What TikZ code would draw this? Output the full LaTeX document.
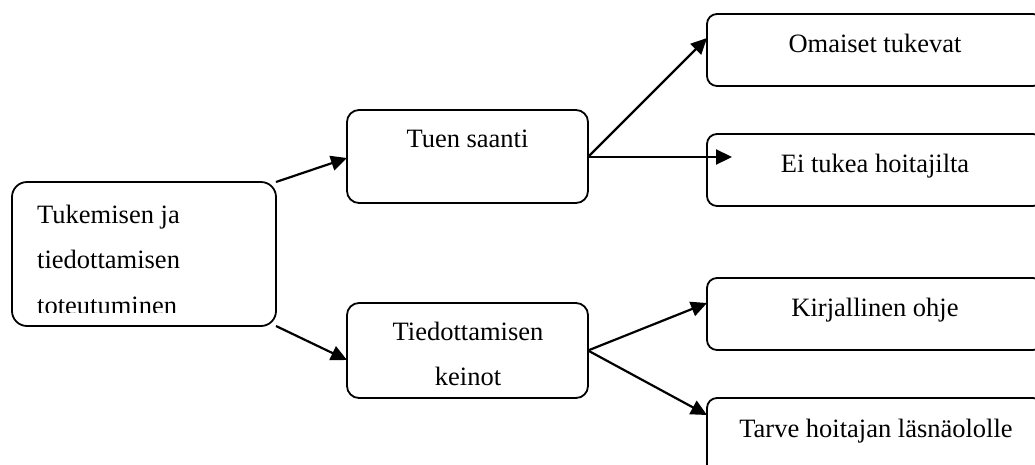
\documentclass[tikz,border=0pt]{standalone}
\usepackage{fontspec}
\setmainfont{Liberation Serif}
\usetikzlibrary{arrows.meta,calc}
\begin{document}
\begin{tikzpicture}[x=1pt,y=-1pt,
  box/.style={draw=black,line width=1.8pt,rounded corners=#1,rectangle,inner sep=0pt,outer sep=0pt},
  box/.default=12pt,
  lbl/.style={anchor=base,inner sep=0pt,font=\fontsize{26.5}{30}\selectfont},
  conn/.style={line width=2.2pt,-{Triangle[length=16pt,width=15pt]}}]
\useasboundingbox (0,0) rectangle (1035,464);
\clip (0,0) rectangle (1035,464);

% boxes
\node[box=15pt,minimum width=264pt,minimum height=144pt] (root) at (144,254) {};
\node[box,minimum width=241pt,minimum height=93pt] (tuen) at (467.5,156.5) {};
\node[box,minimum width=241pt,minimum height=95pt] (tied) at (467.5,350.5) {};
\node[box=10pt,minimum width=336pt,minimum height=72pt] (omai) at (875,50) {};
\node[box=10pt,minimum width=336pt,minimum height=72pt] (eituki) at (875,170) {};
\node[box=10pt,minimum width=336pt,minimum height=72pt] (kirj) at (875,314) {};
\node[box=10pt,minimum width=336pt,minimum height=82pt] (tarve) at (875,439) {};

% texts
\node[lbl,anchor=base west] (r1) at (37,223) {Tukemisen ja};
\node[lbl,anchor=base west] (r2) at (37,268.5) {tiedottamisen};
\begin{scope}
  \clip (0,0) rectangle (300,312);
  \node[lbl,anchor=base west] (r3) at (37,314) {toteutuminen};
\end{scope}
\node[lbl] (t1) at (467.5,147) {Tuen saanti};
\node[lbl] (d1) at (468,340) {Tiedottamisen};
\node[lbl] (d2) at (468,385) {keinot};
\node[lbl] (o1) at (875,52) {Omaiset tukevat};
\node[lbl] (e1) at (875,172) {Ei tukea hoitajilta};
\node[lbl] (k1) at (875,316) {Kirjallinen ohje};
\node[lbl] (v1) at (876,437) {Tarve hoitajan läsnäololle};

% connectors
\coordinate (eitip) at ($(eituki.west)+(25,-13)$);
\draw[conn] (root.north east) -- ([yshift=-1.5pt]tuen.west);
\draw[conn] (root.south east) -- ([yshift=-9.5pt]tied.west);
\draw[conn] ([yshift=-0.5pt]tuen.east) -- ([yshift=12pt]omai.west);
\draw[conn] ([yshift=-0.5pt]tuen.east) -- (eitip);
\draw[conn] (tied.east) -- ([yshift=11pt]kirj.west);
\draw[conn] (tied.east) -- ([yshift=-17pt]tarve.north west);
\end{tikzpicture}
\end{document}
